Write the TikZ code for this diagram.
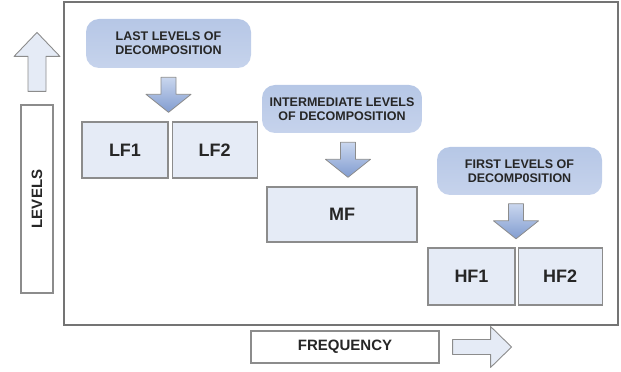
\documentclass[tikz,border=0pt]{standalone}
\usepackage{fontspec}
\setmainfont{Liberation Sans}
\usetikzlibrary{positioning,calc}

\definecolor{pillblue}{HTML}{B6C7E6}
\definecolor{pillblue2}{HTML}{C6D3EC}
\definecolor{arrtop}{HTML}{C9D6EE}
\definecolor{arrbot}{HTML}{819CD0}
\definecolor{boxfill}{HTML}{E5EBF6}
\definecolor{boxline}{HTML}{8C8C8C}
\definecolor{frameline}{HTML}{747474}
\definecolor{txt}{HTML}{262626}

\tikzset{
  pill/.style={rounded corners=13pt,top color=pillblue,bottom color=pillblue2,
    text=txt,font=\bfseries\fontsize{12.5}{14}\selectfont,align=center,inner sep=0pt},
  band/.style={draw=boxline,line width=1.1pt,fill=boxfill,text=txt,
    font=\bfseries\fontsize{18}{20}\selectfont,inner sep=0pt},
  axisbox/.style={draw=boxline,line width=1.1pt,fill=white,text=txt,
    font=\bfseries\fontsize{15}{17}\selectfont,inner sep=0pt},
  downarr/.pic={
    \draw[boxline,line width=0.8pt,top color=arrtop,bottom color=arrbot,line join=round]
      (-7.5,17.5) -- (7.5,17.5) -- (7.5,0.5) -- (22.5,0.5) -- (0,-17.5)
      -- (-22.5,0.5) -- (-7.5,0.5) -- cycle;
  },
  uparr/.pic={
    \draw[boxline,line width=0.9pt,fill=boxfill,line join=round]
      (-9,-29.5) -- (9,-29.5) -- (9,5.5) -- (23,5.5) -- (0,29.5)
      -- (-23,5.5) -- (-9,5.5) -- cycle;
  },
  rightarr/.pic={
    \draw[boxline,line width=0.9pt,fill=boxfill,line join=round]
      (-29.5,-7.5) -- (-29.5,7.5) -- (8.5,7.5) -- (8.5,20.5) -- (29.5,0)
      -- (8.5,-20.5) -- (8.5,-7.5) -- cycle;
  }
}

\begin{document}
\begin{tikzpicture}[x=1pt,y=1pt]
\useasboundingbox (0,0) rectangle (621,372);
% frame
\draw[frameline,line width=1.3pt] (64,47) rectangle (618,370);
% decomposition levels
\node[pill,minimum width=165pt,minimum height=49pt] (last) at (168.5,328.5) {LAST LEVELS OF\\DECOMPOSITION};
\node[pill,minimum width=160pt,minimum height=48pt] (inter) at (342,263) {INTERMEDIATE LEVELS\\OF DECOMPOSITION};
\node[pill,minimum width=165pt,minimum height=48pt] (first) at (519.5,201) {FIRST LEVELS OF\\DECOMP0SITION};
% frequency bands
\node[band,minimum width=86pt,minimum height=56pt] (lf1) at (125,222) {LF1};
\node[band,minimum width=85pt,minimum height=56pt,right=3pt of lf1] (lf2) {LF2};
\node[band,minimum width=150pt,minimum height=55pt] (mf) at (342,157.5) {MF};
\node[band,minimum width=87pt,minimum height=57pt] (hf1) at (471.5,95.5) {HF1};
\node[band,minimum width=84pt,minimum height=57pt,right=2pt of hf1] (hf2) {HF2};
% arrows from levels to bands
\pic at ($(last.south)!0.5!(lf1.north east)$) {downarr};
\pic at ($([xshift=6pt]inter.south)!0.5!([xshift=6pt]mf.north)$) {downarr};
\pic at ($([xshift=-3pt]first.south)!0.5!(hf1.north east)$) {downarr};
% axes
\node[axisbox,minimum width=32pt,minimum height=188pt] (levels) at (37,173) {\rotatebox{90}{LEVELS}};
\node[axisbox,minimum width=188pt,minimum height=32pt] (freq) at (345,25) {FREQUENCY};
\pic at ([yshift=42.5pt]levels.north) {uparr};
\pic at ([xshift=42.5pt]freq.east) {rightarr};
\end{tikzpicture}
\end{document}
